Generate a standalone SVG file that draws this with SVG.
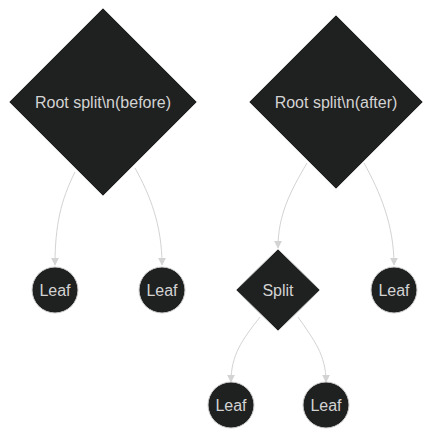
<svg xmlns="http://www.w3.org/2000/svg" width="433" height="437" viewBox="0 0 433 437">
<style>
.node{fill:#1f2020;stroke:#d0d0d0;stroke-width:1}
.lbl{fill:#d3d3d3;font-family:"Liberation Sans",Arial,sans-serif;font-size:16px;text-anchor:middle;dominant-baseline:central}
.edge{fill:none;stroke:#d3d3d3;stroke-width:1}
</style>
<defs>
<marker id="arr" viewBox="0 0 10 10" refX="9" refY="5" markerWidth="8" markerHeight="8" markerUnits="userSpaceOnUse" orient="auto">
<path d="M0,0 L10,5 L0,10 z" fill="#d3d3d3"/>
</marker>
</defs>
<rect width="433" height="437" fill="#ffffff"/>
<g id="edges">
<path class="edge" d="M75,172 C61,200 55,225 55,265" marker-end="url(#arr)"/>
<path class="edge" d="M135,168 C150,195 162,225 162,265" marker-end="url(#arr)"/>
<path class="edge" d="M307,163 C290,192 278,215 278,248" marker-end="url(#arr)"/>
<path class="edge" d="M364,163 C380,192 394,225 394,265" marker-end="url(#arr)"/>
<path class="edge" d="M260,317 C242,340 231,355 231,382" marker-end="url(#arr)"/>
<path class="edge" d="M298,317 C314,340 326,355 326,382" marker-end="url(#arr)"/>
</g>
<g id="root_before">
<polygon class="node" points="103,8 197,102 103,196 9,102"/>
<text class="lbl" x="103" y="102">Root split\n(before)</text>
</g>
<g id="root_after">
<polygon class="node" points="336,15 423,102 336,189 249,102"/>
<text class="lbl" x="336" y="102">Root split\n(after)</text>
</g>
<g id="leaf1">
<circle class="node" cx="55" cy="290" r="23"/>
<text class="lbl" x="55" y="290">Leaf</text>
</g>
<g id="leaf2">
<circle class="node" cx="162" cy="290" r="23"/>
<text class="lbl" x="162" y="290">Leaf</text>
</g>
<g id="split">
<polygon class="node" points="278,249 320,290 278,331 236,290"/>
<text class="lbl" x="278" y="290">Split</text>
</g>
<g id="leaf3">
<circle class="node" cx="394" cy="290" r="23"/>
<text class="lbl" x="394" y="290">Leaf</text>
</g>
<g id="leaf4">
<circle class="node" cx="231" cy="405" r="23"/>
<text class="lbl" x="231" y="405">Leaf</text>
</g>
<g id="leaf5">
<circle class="node" cx="326" cy="405" r="23"/>
<text class="lbl" x="326" y="405">Leaf</text>
</g>
</svg>
